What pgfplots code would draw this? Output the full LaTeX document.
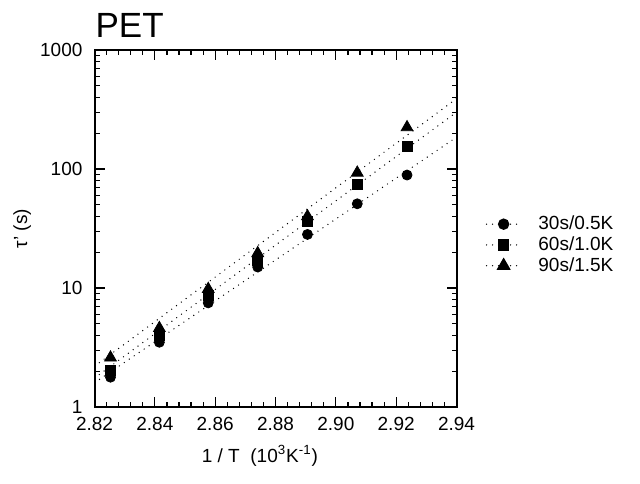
\documentclass[border=0pt]{standalone}
\usepackage{pgfplots}
\pgfplotsset{compat=1.18}
\usepackage{fontspec}
\setmainfont{Liberation Sans}
\begin{document}
\begin{tikzpicture}
\begin{axis}[
  scale only axis,
  width=181pt, height=178.5pt,
  ymode=log,
  xmin=2.82, xmax=2.94, ymin=1, ymax=1000,
  xtick={2.82,2.84,2.86,2.88,2.90,2.92,2.94},
  xticklabels={2.82,2.84,2.86,2.88,2.90,2.92,2.94},
  minor x tick num=4,
  ytick={1,10,100,1000},
  yticklabels={1,10,100,1000},
  tick align=inside,
  major tick length=5pt, minor tick length=2.5pt,
  every tick/.style={black, line width=0.6pt},
  axis line style={line width=1pt},
  tick label style={font=\fontsize{9.5}{11}\selectfont},
  /pgf/number format/assume math mode=true,
  xticklabel style={yshift=-1.5pt},
  yticklabel style={xshift=-2.5pt},
  xlabel={1 / T \ (10\textsuperscript{3}K\textsuperscript{-1})},
  ylabel={τ' (s)},
  label style={font=\fontsize{9.5}{11}\selectfont},
  xlabel style={at={(axis description cs:0.457,-0.137)}, anchor=center},
  ylabel style={at={(axis description cs:-0.2,0.5)}, anchor=center},
  legend style={at={(axis description cs:1.08,0.454)}, anchor=west, draw=none, fill=none,
     inner sep=0pt, font=\fontsize{9.5}{11}\selectfont, row sep=-1pt,
     nodes={inner sep=1.5pt}},
  legend cell align=left,
  /tikz/every odd column/.append style={column sep=7pt},
  clip mode=individual,
]
\addplot[only marks, mark=*, mark size=2.5pt, black, forget plot] coordinates {
 (2.8253,1.78) (2.8415,3.5) (2.8577,7.5) (2.8741,15.0) (2.8906,28.2) (2.9071,51) (2.9236,89)};
\addplot[only marks, mark=square*, mark size=2.5pt, black, forget plot] coordinates {
 (2.8253,2.03) (2.8415,4.0) (2.8577,8.6) (2.8741,17.1) (2.8906,36) (2.9071,74) (2.9236,155)};
\addplot[only marks, mark=triangle*, mark size=3.4pt, black, forget plot] coordinates {
 (2.8253,2.6) (2.8415,4.6) (2.8577,9.8) (2.8741,19.6) (2.8906,40) (2.9071,93) (2.9236,224)};
% fitted dotted lines (two end points)
\addplot[black, line width=0.7pt, line cap=round, dash pattern=on 0pt off 3pt, forget plot] coordinates {(2.82,1.6) (2.94,185)};
\addplot[black, line width=0.7pt, line cap=round, dash pattern=on 0pt off 3pt, forget plot] coordinates {(2.82,1.75) (2.94,300)};
\addplot[black, line width=0.7pt, line cap=round, dash pattern=on 0pt off 3pt, forget plot] coordinates {(2.82,2.2) (2.94,390)};
% legend entries
\addlegendimage{black, line width=0.7pt, line cap=round, dash pattern=on 0pt off 3pt, mark=*, mark size=2.5pt, mark options={solid}}
\addlegendentry{30s/0.5K}
\addlegendimage{black, line width=0.7pt, line cap=round, dash pattern=on 0pt off 3pt, mark=square*, mark size=2.5pt, mark options={solid}}
\addlegendentry{60s/1.0K}
\addlegendimage{black, line width=0.7pt, line cap=round, dash pattern=on 0pt off 3pt, mark=triangle*, mark size=3.4pt, mark options={solid}}
\addlegendentry{90s/1.5K}
\node[anchor=base west, inner sep=0pt, font=\fontsize{17.5}{20}\selectfont] at (rel axis cs:0.002,1.036) {PET};
\end{axis}
\path (-47.25pt,-38pt) rectangle (272.75pt,203.5pt);
\end{tikzpicture}
\end{document}
